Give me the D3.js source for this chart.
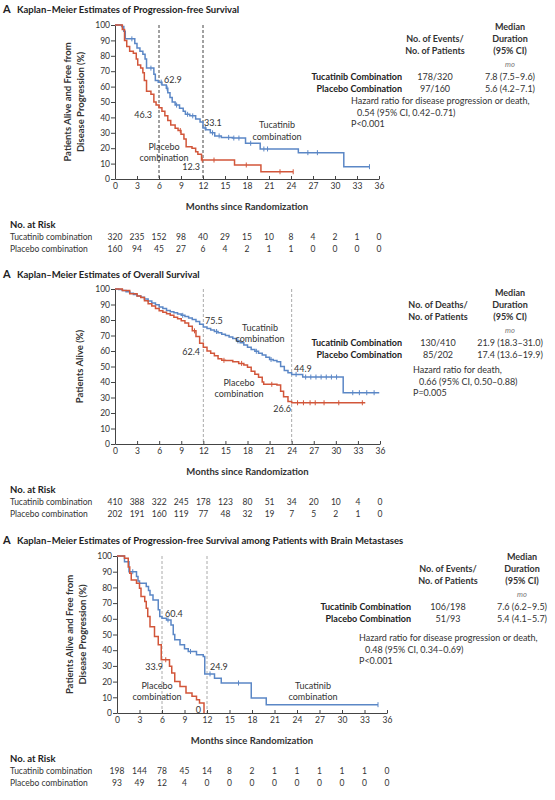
<!DOCTYPE html>
<html>
<head>
<meta charset="UTF-8">
<title>Kaplan-Meier</title>
<style>
  body { margin: 0; background: #fff; }
  svg text { font-family: Lato, "Open Sans", sans-serif; fill: #333; }
</style>
</head>
<body>
<div id="chart"></div>
<script src="https://cdnjs.cloudflare.com/ajax/libs/d3/7.8.5/d3.min.js"></script>
<script>
// ---- shared axis values ----
var monthTicks = [0, 3, 6, 9, 12, 15, 18, 21, 24, 27, 30, 33, 36];
var pctTicks = [0, 10, 20, 30, 40, 50, 60, 70, 80, 90, 100];

// ---- panel 1: progression-free survival [month, %] ----
var pfsTucatinib = [[0,100],[0.9,99],[1.2,96],[1.4,91],[2.7,88],[3.0,85],[3.4,83],[3.8,81],[4.1,78],[4.3,72],[5.3,68],[5.5,64],[5.9,62.9],[6.4,61],[7.0,59],[7.2,56],[7.5,53],[7.8,50],[8.2,48],[8.8,46],[9.3,44],[9.6,42],[10.2,41],[11.0,39],[11.6,37],[12.0,33.1],[12.4,32],[13.0,30],[13.6,28],[14.5,27],[16.0,26.6],[17.8,23.2],[19.8,19.5],[25.0,17.1],[31.2,8.0],[34.7,8.0]];
var pfsPlacebo = [[0,100],[1.0,97],[1.3,90],[1.6,86],[2.0,83],[2.5,81.6],[2.9,78],[3.1,74],[3.5,72],[3.8,69],[4.0,64],[4.3,57],[4.9,55],[5.3,50],[5.6,48],[6.0,46.3],[6.4,44],[6.8,41],[7.2,38],[7.6,35],[8.2,33],[8.6,31.5],[9.0,29],[9.4,26],[9.7,21],[10.5,20],[11.0,17.7],[11.3,16],[11.8,12.3],[16.3,9.1],[19.9,4.7],[24.3,4.7]];
var pfsTucatinibCensor = [2.3, 4.9, 6.3, 7.1, 8.4, 9.9, 10.6, 12.3, 13.3, 14.2, 15.5, 16.2, 16.9, 18.5, 20.3, 20.8, 26.3, 27.6, 34.7];
var pfsPlaceboCensor = [8.9, 11.9, 13.5, 17.9, 22.5, 24.3];
var pfsAtRiskTucatinib = [320, 235, 152, 98, 40, 29, 15, 10, 8, 4, 2, 1, 0];
var pfsAtRiskPlacebo = [160, 94, 45, 27, 6, 4, 2, 1, 1, 0, 0, 0, 0];

// ---- panel 2: overall survival ----
var osTucatinib = [[0,100],[0.5,99.6],[1,99],[1.5,98.2],[2,97.3],[2.5,96.5],[3,95.5],[3.5,94.6],[4,93.5],[4.5,92.3],[5,91],[5.5,89.8],[6,88.4],[6.5,87.5],[7,86.2],[7.5,85.4],[8,84.6],[8.5,83.8],[9,83],[9.5,82.2],[10,81.3],[10.5,80.4],[11,79],[11.5,77.3],[12,75.5],[12.5,74.5],[13,73.6],[13.5,72.6],[14,71.8],[14.5,70.8],[15,70],[15.5,69],[16,68],[16.5,66.5],[17,65.3],[17.5,63.8],[18,62.5],[18.5,61],[19,59.8],[19.5,58.5],[20,57.5],[20.5,56],[21,54.5],[21.5,53.8],[22,53],[22.5,50],[23,47.5],[23.5,46],[24,44.9],[25.5,43.2],[31.0,33.1],[35.9,33.1]];
var osPlacebo = [[0,100],[1,99],[2,97],[3,95.5],[3.5,94.5],[4,92.5],[4.5,90.5],[5,89],[5.5,87.5],[6,86],[6.5,85],[7,84],[7.5,83],[8,81.7],[8.5,80.8],[9,79.5],[9.5,78],[10,75.9],[10.5,73],[11,69.4],[11.5,65],[12,62.4],[12.5,60],[13,58.5],[13.5,57],[14,55],[14.5,54],[15,53.8],[16,53.1],[16.8,52],[17.5,51],[18,49.5],[18.5,47],[19,45],[19.5,43],[20,40],[20.2,38.5],[22,38],[22.5,34],[22.9,30.5],[23.5,27.5],[24,26.6],[34,26.6]];
var osTucatinibCensor = [9.2, 13.8, 16.7, 19.2, 21.2, 24.6, 25.9, 26.6, 27.3, 28.0, 28.7, 29.4, 30.1, 32.3, 33.2, 34.2, 35.2];
var osPlaceboCensor = [10.8, 14.8, 17.2, 21.3, 24.8, 25.6, 26.5, 27.2, 28.4, 30.4, 33.6];
var osAtRiskTucatinib = [410, 388, 322, 245, 178, 123, 80, 51, 34, 20, 10, 4, 0];
var osAtRiskPlacebo = [202, 191, 160, 119, 77, 48, 32, 19, 7, 5, 2, 1, 0];

// ---- panel 3: PFS among patients with brain metastases ----
var brainTucatinib = [[0,100],[1.0,96.4],[1.6,90],[2.6,86.9],[2.8,84],[3.0,82.6],[3.9,80.5],[4.2,78],[4.4,75.2],[4.8,72],[5.5,65.7],[5.7,61.4],[6.0,60.4],[6.6,59.3],[7.2,56.1],[7.5,50],[7.7,46.6],[8.4,43.4],[9.0,41],[9.5,39.2],[10.6,37.1],[11.5,36],[11.7,24.9],[13.0,22.2],[13.9,19.1],[17.9,9.5],[19.9,5.3],[34.8,5.3]];
var brainPlacebo = [[0,100],[1.0,98.5],[1.5,93],[1.7,89],[1.9,84.7],[2.6,82.6],[3.0,79.4],[3.2,74.2],[3.7,71],[3.9,66.7],[4.1,61.4],[4.4,55],[5.0,48.7],[5.5,43.4],[5.9,33.9],[7.0,29.7],[7.3,25.4],[7.7,20.1],[8.4,16.9],[9.2,12.7],[10.0,10.6],[10.6,8.5],[11.0,6.4],[11.6,0]];
var brainTucatinibCensor = [2.1, 6.8, 9.8, 12.4, 16.2, 34.8];
var brainPlaceboCensor = [6.5];
var brainAtRiskTucatinib = [198, 144, 78, 45, 14, 8, 2, 1, 1, 1, 1, 1, 0];
var brainAtRiskPlacebo = [93, 49, 12, 4, 0, 0, 0, 0, 0, 0, 0, 0, 0];

var blue = "#5b87c6";
var red = "#d2563a";

var svg = d3.select("#chart").append("svg")
    .attr("width", 555)
    .attr("height", 800);

// value of a step curve at time t
function stepAt(curve, t) {
    var v = curve[0][1];
    curve.forEach(function (p) { if (p[0] <= t) v = p[1]; });
    return v;
}

function drawPanel(cfg) {
    var g = svg.append("g");
    var x = d3.scaleLinear().domain([0, 36]).range([cfg.left, cfg.right]);
    var y = d3.scaleLinear().domain([0, 100]).range([cfg.bottom, cfg.top]);

    // title
    var title = g.append("text").attr("x", 3).attr("y", cfg.titleY)
        .style("font-weight", "bold").style("fill", "#222");
    title.append("tspan").style("font-size", "11px").text("A");
    title.append("tspan").attr("x", 17).style("font-size", "9.5px").text(cfg.title);

    // dashed reference lines
    g.selectAll(".ref").data(cfg.refMonths).enter().append("line")
        .attr("x1", function (d) { return x(d); })
        .attr("x2", function (d) { return x(d); })
        .attr("y1", y(100)).attr("y2", y(0))
        .style("stroke", cfg.refColor).style("stroke-width", 1)
        .style("stroke-dasharray", "3,2");

    // axes
    var xAxis = g.append("g").attr("transform", "translate(0," + cfg.bottom + ")")
        .call(d3.axisBottom(x).tickValues(monthTicks).tickSizeInner(-3).tickSizeOuter(0).tickPadding(4));
    var yAxis = g.append("g").attr("transform", "translate(" + cfg.left + ",0)")
        .call(d3.axisLeft(y).tickValues(pctTicks).tickSizeInner(4).tickSizeOuter(0).tickPadding(1));
    [xAxis, yAxis].forEach(function (a) {
        a.select(".domain").style("stroke", "#444");
        a.selectAll(".tick line").style("stroke", "#444");
        a.selectAll(".tick text").style("font-size", "8.5px").style("font-family", "Lato, sans-serif").style("fill", "#333");
    });

    // y axis title
    var yt = g.append("text")
        .attr("transform", "translate(" + cfg.yTitleX + "," + ((cfg.top + cfg.bottom) / 2) + ") rotate(-90)")
        .attr("text-anchor", "middle")
        .style("font-size", "9.5px").style("font-weight", "bold");
    cfg.yTitle.forEach(function (line, i) {
        yt.append("tspan").attr("x", 0).attr("dy", i === 0 ? 0 : 12.5).text(line);
    });

    // x axis title
    g.append("text").attr("x", (cfg.left + cfg.right) / 2).attr("y", cfg.bottom + 31)
        .attr("text-anchor", "middle")
        .style("font-size", "9.5px").style("font-weight", "bold")
        .text("Months since Randomization");

    // curves
    var line = d3.line()
        .x(function (d) { return x(d[0]); })
        .y(function (d) { return y(d[1]); })
        .curve(d3.curveStepAfter);

    cfg.series.forEach(function (s) {
        g.append("path").datum(s.data)
            .attr("d", line)
            .style("fill", "none").style("stroke", s.color).style("stroke-width", 1.5);
        g.selectAll(null).data(s.censor).enter().append("line")
            .attr("x1", function (d) { return x(d); })
            .attr("x2", function (d) { return x(d); })
            .attr("y1", function (d) { return y(stepAt(s.data, d)) - 2.5; })
            .attr("y2", function (d) { return y(stepAt(s.data, d)) + 2.5; })
            .style("stroke", s.color).style("stroke-width", 1);
    });

    // annotations on the plot
    cfg.notes.forEach(function (n) {
        g.append("text").attr("x", n.x).attr("y", n.y)
            .attr("text-anchor", n.anchor || "start")
            .style("font-size", "9px")
            .text(n.text);
    });

    // number at risk
    var ry = cfg.bottom + 49;
    g.append("text").attr("x", 10).attr("y", ry)
        .style("font-size", "9.5px").style("font-weight", "bold").style("fill", "#222")
        .text("No. at Risk");
    cfg.atRisk.forEach(function (row, r) {
        var yy = ry + 12 + r * 11.5;
        g.append("text").attr("x", 10).attr("y", yy)
            .style("font-size", "8.5px").text(row.label);
        g.selectAll(null).data(row.values).enter().append("text")
            .attr("x", function (d, i) { return x(monthTicks[i]); })
            .attr("y", yy)
            .attr("text-anchor", "middle")
            .style("font-size", "8.5px")
            .text(function (d) { return d; });
    });

    // summary table
    var t = cfg.table;
    var hdr = g.append("g").style("font-size", "9px").style("font-weight", "bold").style("fill", "#222");
    hdr.append("text").attr("x", t.col2).attr("y", t.top).attr("text-anchor", "middle").text("Median");
    hdr.append("text").attr("x", t.col1).attr("y", t.top + 12).attr("text-anchor", "middle").text(t.eventHead);
    hdr.append("text").attr("x", t.col2).attr("y", t.top + 12).attr("text-anchor", "middle").text("Duration");
    hdr.append("text").attr("x", t.col1).attr("y", t.top + 24).attr("text-anchor", "middle").text("No. of Patients");
    hdr.append("text").attr("x", t.col2).attr("y", t.top + 24).attr("text-anchor", "middle").text("(95% CI)");
    g.append("text").attr("x", t.col2).attr("y", t.top + 37).attr("text-anchor", "middle")
        .style("font-size", "7.5px").style("font-style", "italic").style("fill", "#777").text("mo");
    t.rows.forEach(function (row, i) {
        var yy = t.top + 50 + i * 11.5;
        g.append("text").attr("x", t.labelRight).attr("y", yy).attr("text-anchor", "end")
            .style("font-size", "9px").style("font-weight", "bold").style("fill", "#222").text(row[0]);
        g.append("text").attr("x", t.col1).attr("y", yy).attr("text-anchor", "middle")
            .style("font-size", "9px").text(row[1]);
        g.append("text").attr("x", t.col2).attr("y", yy).attr("text-anchor", "middle")
            .style("font-size", "9px").text(row[2]);
    });
    t.hazard.forEach(function (h, i) {
        g.append("text").attr("x", t.hrLeft + (i === 1 ? 6 : 0)).attr("y", t.hrTop + i * 11.5)
            .style("font-size", "9px").text(h);
    });
}

drawPanel({
    title: "Kaplan\u2013Meier Estimates of Progression-free Survival",
    titleY: 13, top: 25, bottom: 179, left: 115, right: 379,
    yTitle: ["Patients Alive and Free from", "Disease Progression (%)"], yTitleX: 71,
    refMonths: [6, 12], refColor: "#444",
    series: [
        { data: pfsTucatinib, censor: pfsTucatinibCensor, color: blue },
        { data: pfsPlacebo, censor: pfsPlaceboCensor, color: red }
    ],
    notes: [
        { x: 164, y: 83, text: "62.9" },
        { x: 152, y: 118, text: "46.3", anchor: "end" },
        { x: 204, y: 126, text: "33.1" },
        { x: 200, y: 170, text: "12.3", anchor: "end" },
        { x: 164, y: 150, text: "Placebo", anchor: "middle" },
        { x: 164, y: 161, text: "combination", anchor: "middle" },
        { x: 277, y: 128, text: "Tucatinib", anchor: "middle" },
        { x: 277, y: 140, text: "combination", anchor: "middle" }
    ],
    atRisk: [
        { label: "Tucatinib combination", values: pfsAtRiskTucatinib },
        { label: "Placebo combination", values: pfsAtRiskPlacebo }
    ],
    table: {
        top: 30, col1: 435, col2: 510, labelRight: 402,
        eventHead: "No. of Events/",
        rows: [["Tucatinib Combination", "178/320", "7.8 (7.5\u20139.6)"],
               ["Placebo Combination", "97/160", "5.6 (4.2\u20137.1)"]],
        hrLeft: 351, hrTop: 104,
        hazard: ["Hazard ratio for disease progression or death,", "0.54 (95% CI, 0.42\u20130.71)", "P<0.001"]
    }
});

drawPanel({
    title: "Kaplan\u2013Meier Estimates of Overall Survival",
    titleY: 278, top: 289, bottom: 444, left: 115, right: 380,
    yTitle: ["Patients Alive (%)"], yTitleX: 83,
    refMonths: [12, 24], refColor: "#aaa",
    series: [
        { data: osTucatinib, censor: osTucatinibCensor, color: blue },
        { data: osPlacebo, censor: osPlaceboCensor, color: red }
    ],
    notes: [
        { x: 205, y: 324, text: "75.5" },
        { x: 200, y: 355, text: "62.4", anchor: "end" },
        { x: 294, y: 372, text: "44.9" },
        { x: 291, y: 412, text: "26.6", anchor: "end" },
        { x: 260, y: 331, text: "Tucatinib", anchor: "middle" },
        { x: 260, y: 342, text: "combination", anchor: "middle" },
        { x: 239, y: 386, text: "Placebo", anchor: "middle" },
        { x: 239, y: 397, text: "combination", anchor: "middle" }
    ],
    atRisk: [
        { label: "Tucatinib combination", values: osAtRiskTucatinib },
        { label: "Placebo combination", values: osAtRiskPlacebo }
    ],
    table: {
        top: 296, col1: 438, col2: 510, labelRight: 402,
        eventHead: "No. of Deaths/",
        rows: [["Tucatinib Combination", "130/410", "21.9 (18.3\u201331.0)"],
               ["Placebo Combination", "85/202", "17.4 (13.6\u201319.9)"]],
        hrLeft: 413, hrTop: 373,
        hazard: ["Hazard ratio for death,", "0.66 (95% CI, 0.50\u20130.88)", "P=0.005"]
    }
});

drawPanel({
    title: "Kaplan\u2013Meier Estimates of Progression-free Survival among Patients with Brain Metastases",
    titleY: 544, top: 556, bottom: 713, left: 117, right: 387,
    yTitle: ["Patients Alive and Free from", "Disease Progression (%)"], yTitleX: 73,
    refMonths: [6, 12], refColor: "#aaa",
    series: [
        { data: brainTucatinib, censor: brainTucatinibCensor, color: blue },
        { data: brainPlacebo, censor: brainPlaceboCensor, color: red }
    ],
    notes: [
        { x: 165, y: 617, text: "60.4" },
        { x: 163, y: 670, text: "33.9", anchor: "end" },
        { x: 210, y: 670, text: "24.9" },
        { x: 201, y: 713, text: "0", anchor: "end" },
        { x: 157, y: 689, text: "Placebo", anchor: "middle" },
        { x: 157, y: 700, text: "combination", anchor: "middle" },
        { x: 313, y: 689, text: "Tucatinib", anchor: "middle" },
        { x: 313, y: 700, text: "combination", anchor: "middle" }
    ],
    atRisk: [
        { label: "Tucatinib combination", values: brainAtRiskTucatinib },
        { label: "Placebo combination", values: brainAtRiskPlacebo }
    ],
    table: {
        top: 560, col1: 448, col2: 522, labelRight: 411,
        eventHead: "No. of Events/",
        rows: [["Tucatinib Combination", "106/198", "7.6 (6.2\u20139.5)"],
               ["Placebo Combination", "51/93", "5.4 (4.1\u20135.7)"]],
        hrLeft: 359, hrTop: 641,
        hazard: ["Hazard ratio for disease progression or death,", "0.48 (95% CI, 0.34\u20130.69)", "P<0.001"]
    }
});
</script>
</body>
</html>
